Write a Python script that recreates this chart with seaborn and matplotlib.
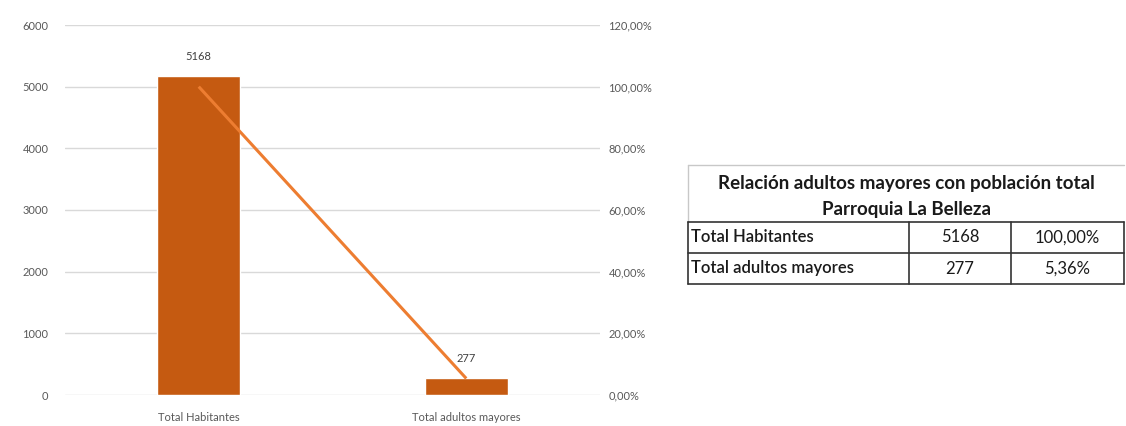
import matplotlib
matplotlib.use("Agg")
import matplotlib.pyplot as plt
import numpy as np
import pandas as pd
import seaborn as sns

categories = ["Total Habitantes", "Total adultos mayores"]
counts = [5168, 277]
percents = [100.00, 5.36]
count_ticks = [0, 1000, 2000, 3000, 4000, 5000, 6000]
pct_ticks = [0, 20, 40, 60, 80, 100, 120]

table_title = ["Relación adultos mayores con población total", "Parroquia La Belleza"]
table_rows = [
    ["Total Habitantes", "5168", "100,00%"],
    ["Total adultos mayores", "277", "5,36%"],
]

sns.set_theme(style="white")
plt.rcParams["font.family"] = ["Lato", "DejaVu Sans"]

BAR = "#c55a11"
LINE = "#ed7d31"
GRID = "#d9d9d9"
TICK = "#595959"

W, H = 1126, 426
fig = plt.figure(figsize=(W / 100, H / 100), dpi=100)


def px(x0, y0, x1, y1):
    # pixel box (top-left origin) -> figure fraction rect
    return [x0 / W, 1 - y1 / H, (x1 - x0) / W, (y1 - y0) / H]


ax = fig.add_axes(px(65, 25, 600, 395))
df = pd.DataFrame({"cat": categories, "n": counts})
sns.barplot(data=df, x="cat", y="n", color=BAR, saturation=1, width=0.31, ax=ax)
ax.set_ylim(0, 6000)
ax.set_yticks(count_ticks)
ax.set_yticklabels([str(t) for t in count_ticks])
ax.set_xlim(-0.5, len(categories) - 0.5)
ax.set_xlabel("")
ax.set_ylabel("")
for s in ax.spines.values():
    s.set_visible(False)
for t in count_ticks:
    ax.axhline(t, color=GRID, lw=1, zorder=0)
ax.tick_params(axis="both", length=0, labelsize=8, labelcolor=TICK, pad=12)
ax.tick_params(axis="x", pad=12)
for i, v in enumerate(counts):
    ax.annotate(str(v), (i, v), xytext=(0, 10), textcoords="offset points",
                ha="center", va="bottom", fontsize=8, color="#404040")

ax2 = ax.twinx()
ax2.plot(np.arange(len(categories)), percents, color=LINE, lw=2.2, solid_capstyle="butt")
ax2.set_ylim(0, 120)
ax2.set_yticks(pct_ticks)
ax2.set_yticklabels([f"{t:.2f}%".replace(".", ",") for t in pct_ticks])
ax2.tick_params(axis="y", length=0, labelsize=8, labelcolor=TICK, pad=6)
ax2.grid(False)
for s in ax2.spines.values():
    s.set_visible(False)

# summary table on the right
tx0, tx1 = 688, 1124
c1, c2 = 909, 1011
y_top, y_head, y_mid, y_bot = 165, 222, 253, 284
tab = fig.add_axes([0, 0, 1, 1])
tab.set_xlim(0, W)
tab.set_ylim(H, 0)
tab.axis("off")
tab.plot([tx0, tx1], [y_top, y_top], color="#c8c8c8", lw=1)
tab.plot([tx0, tx0], [y_top, y_head], color="#c8c8c8", lw=1)
for yy in (y_head, y_mid, y_bot):
    tab.plot([tx0, tx1], [yy, yy], color="#333333", lw=1.2)
for xx in (tx0, c1, c2, tx1):
    tab.plot([xx, xx], [y_head, y_bot], color="#333333", lw=1.2)
tab.text((tx0 + tx1) / 2, 183, table_title[0], ha="center", va="center",
         fontsize=13.5, fontweight="bold", color="#1a1a1a")
tab.text((tx0 + tx1) / 2, 209, table_title[1], ha="center", va="center",
         fontsize=13.5, fontweight="bold", color="#1a1a1a")
for (label, n, p), (ya, yb) in zip(table_rows, [(y_head, y_mid), (y_mid, y_bot)]):
    yc = (ya + yb) / 2
    tab.text(tx0 + 3, yc, label, ha="left", va="center", fontsize=12,
             fontweight="semibold", color="#1a1a1a")
    tab.text((c1 + c2) / 2, yc, n, ha="center", va="center", fontsize=12, color="#1a1a1a")
    tab.text((c2 + tx1) / 2, yc, p, ha="center", va="center", fontsize=12, color="#1a1a1a")

fig.savefig("out.png", dpi=100)
